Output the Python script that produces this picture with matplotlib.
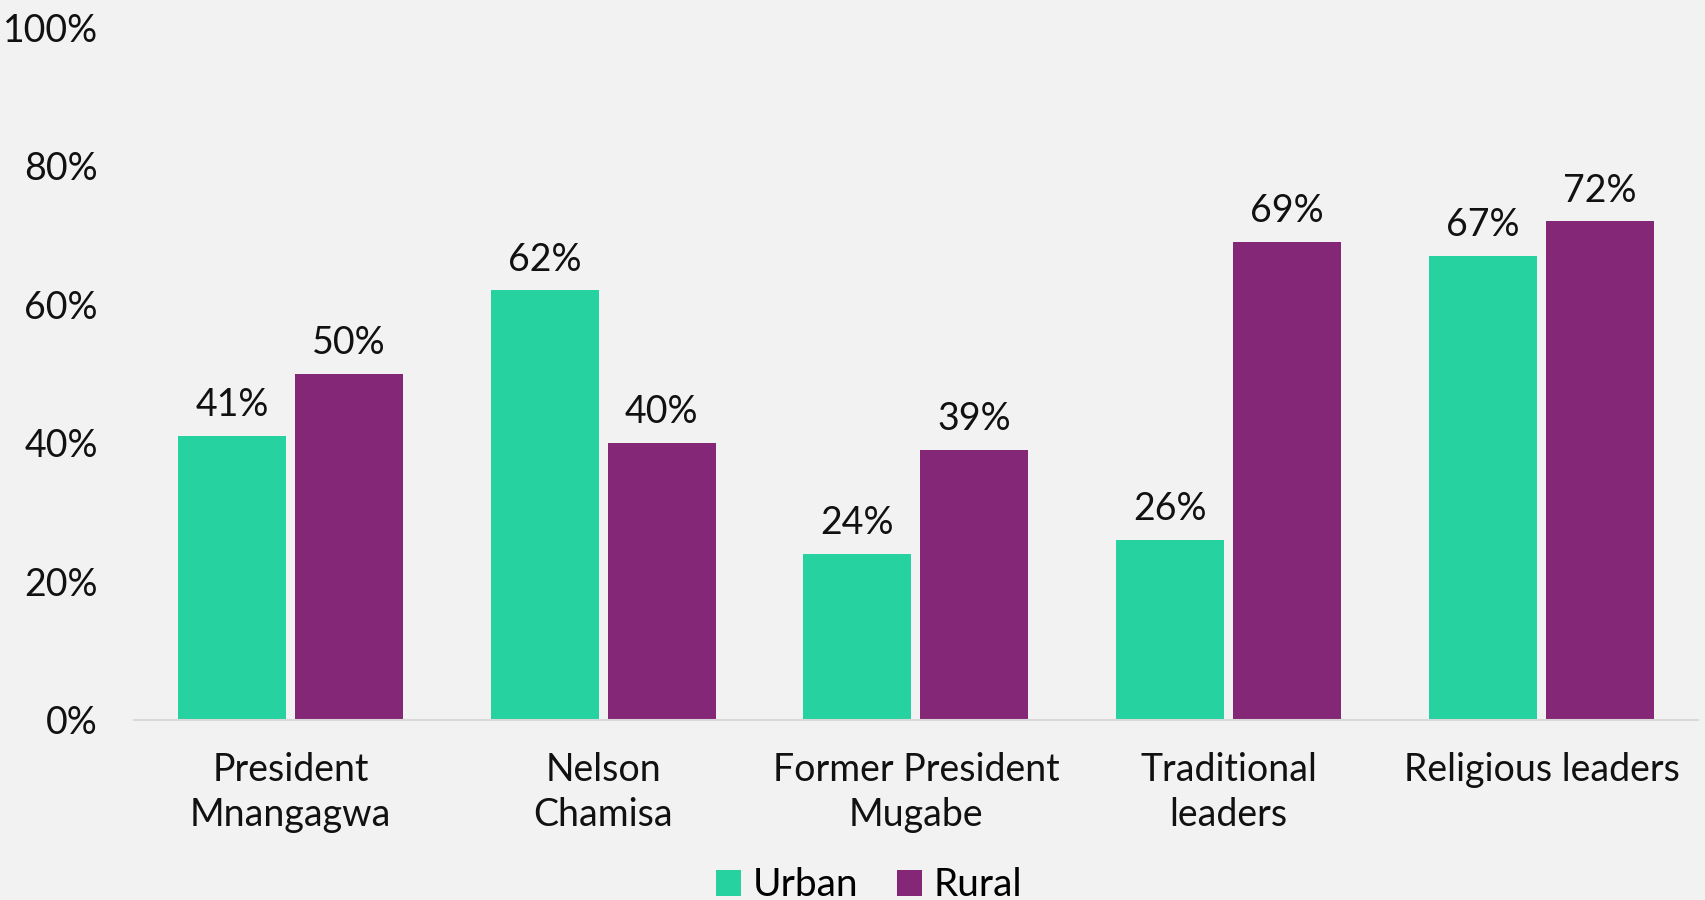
import matplotlib
matplotlib.use("Agg")
import matplotlib.pyplot as plt
import numpy as np

# data
categories = ["President\nMnangagwa", "Nelson\nChamisa", "Former President\nMugabe",
              "Traditional\nleaders", "Religious leaders"]
urban = [41, 62, 24, 26, 67]
rural = [50, 40, 39, 69, 72]
series_names = ["Urban", "Rural"]
yticks = [0, 20, 40, 60, 80, 100]

green = "#25D2A0"
purple = "#842777"
bg = "#F2F2F2"

plt.rcParams["font.family"] = ["Lato", "DejaVu Sans"]

fig = plt.figure(figsize=(17.06, 9), dpi=100, facecolor=bg)
ax = fig.add_axes([0.0785, 0.2, 0.9168, 0.77], facecolor=bg)

x = np.arange(len(categories))
w = 0.345
off = 0.187
b1 = ax.bar(x - off, urban, w, color=green, label=series_names[0])
b2 = ax.bar(x + off, rural, w, color=purple, label=series_names[1])

for bars, vals in ((b1, urban), (b2, rural)):
    for rect, v in zip(bars, vals):
        ax.annotate(f"{v}%", (rect.get_x() + rect.get_width() / 2, v),
                    xytext=(0, 9), textcoords="offset points",
                    ha="center", va="bottom", fontsize=27, color="#111111")

ax.set_xlim(-0.5, len(categories) - 0.5)
ax.set_ylim(0, 100)
ax.set_yticks(yticks)
ax.set_yticklabels([f"{t}%" for t in yticks])
ax.set_xticks(x)
ax.set_xticklabels(categories, linespacing=1.32)

ax.tick_params(axis="both", length=0, labelsize=27, colors="#111111")
ax.tick_params(axis="x", pad=23)
ax.tick_params(axis="y", pad=26)

for s in ["top", "right", "left"]:
    ax.spines[s].set_visible(False)
ax.spines["bottom"].set_color("#D9D9D9")
ax.spines["bottom"].set_linewidth(1.5)

ax.legend(loc="lower center", bbox_to_anchor=(0.47, -0.315), ncol=2, frameon=False,
          fontsize=28, handlelength=0.65, handleheight=0.65, handletextpad=0.3,
          columnspacing=1.0)

fig.savefig("out.png", dpi=100, facecolor=bg)
